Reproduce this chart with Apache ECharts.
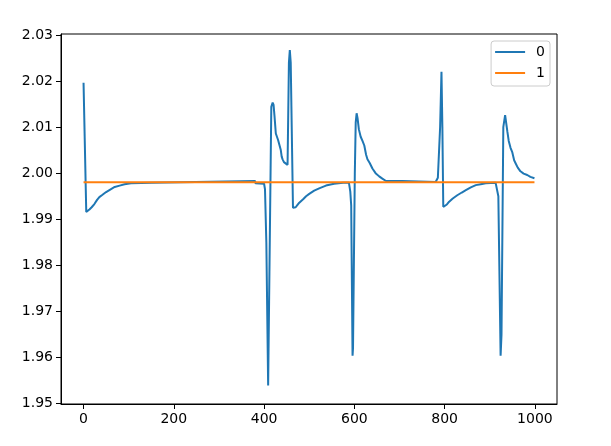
<!DOCTYPE html>
<html>
<head>
<meta charset="utf-8">
<script src="https://cdn.jsdelivr.net/npm/echarts@6/dist/echarts.min.js"></script>
<style>html,body{margin:0;padding:0;background:#fff}#c{width:611px;height:446px}</style>
</head>
<body>
<div id="c"></div>
<script>
// Series "0" (blue) key points
const blueX = [0, 6, 9, 13, 18, 24, 30, 35, 42, 50, 60, 69, 80, 91, 105, 150, 151, 380, 381, 400,
  402, 405, 409, 416, 419, 421, 423, 426, 428, 431, 434, 437, 439, 441, 444, 448, 452, 455, 457, 459,
  464, 467, 470, 474, 478, 482, 487, 493, 500, 511, 522, 537, 555, 575, 588, 591, 593, 596, 597, 601,
  603, 605, 607, 610, 614, 618, 622, 626, 629, 634, 640, 647, 655, 662, 670, 706, 707, 780, 785, 790,
  793, 795, 797, 800, 805, 810, 818, 828, 838, 847, 858, 869, 880, 891, 913, 916, 919, 924, 926, 930,
  934, 936, 939, 942, 946, 950, 954, 958, 962, 968, 975, 983, 990, 999];
const blueY = [2.0196, 1.9916, 1.9918, 1.9921, 1.9926, 1.9933, 1.9942, 1.9948, 1.9953, 1.9959, 1.9965, 1.9970, 1.9973, 1.9976, 1.9978, 1.9979, 1.9983, 1.9983, 1.9978, 1.9977,
  1.9965, 1.9850, 1.9539, 2.0144, 2.0153, 2.0148, 2.0125, 2.0086, 2.0082, 2.0072, 2.0061, 2.0050, 2.0036, 2.0030, 2.0024, 2.0020, 2.0018, 2.0240, 2.0267, 2.0240,
  1.9925, 1.9923, 1.9926, 1.9931, 1.9936, 1.9939, 1.9944, 1.9950, 1.9955, 1.9962, 1.9967, 1.9973, 1.9977, 1.9979, 1.9979, 1.9960, 1.9930, 1.9604, 1.9620, 2.0000,
  2.0110, 2.0130, 2.0120, 2.0095, 2.0079, 2.0070, 2.0060, 2.0040, 2.0030, 2.0022, 2.0010, 2.0000, 1.9993, 1.9988, 1.9983, 1.9983, 1.9981, 1.9981, 1.9990, 2.0100,
  2.0220, 2.0100, 1.9927, 1.9926, 1.9932, 1.9938, 1.9945, 1.9952, 1.9958, 1.9963, 1.9969, 1.9974, 1.9976, 1.9978, 1.9979, 1.9975, 1.9950, 1.9604, 1.9650, 2.0100,
  2.0126, 2.0126, 2.0090, 2.0070, 2.0055, 2.0045, 2.0028, 2.0020, 2.0012, 2.0004, 1.9999, 1.9996, 1.9992, 1.9989];
// Series "1" (orange), constant
const orangeX = [0, 999];
const orangeY = [1.998, 1.998];
const seriesNames = ['0', '1'];
const xTicks = [0, 200, 400, 600, 800, 1000];
const yTicks = [1.95, 1.96, 1.97, 1.98, 1.99, 2.00, 2.01, 2.02, 2.03];

const zip = (xs, ys) => xs.map((x, i) => [x, ys[i]]);
const font = 'DejaVu Sans';
const chart = echarts.init(document.getElementById('c'), null, {renderer: 'canvas'});
chart.setOption({
  animation: false,
  backgroundColor: '#fff',
  grid: {left: 61, right: 54, top: 34, height: 370, show: true, borderColor: '#000', borderWidth: 1, backgroundColor: 'transparent'},
  xAxis: {
    type: 'value', min: -49.95, max: 1048.95,
    splitLine: {show: false},
    axisLine: {show: true, onZero: false, lineStyle: {color: '#000', width: 1}},
    axisTick: {show: true, inside: false, length: 5, lineStyle: {color: '#000'}, customValues: xTicks},
    axisLabel: {color: '#000', fontSize: 14, fontFamily: font, margin: 8, customValues: xTicks, formatter: v => String(v)}
  },
  yAxis: {
    type: 'value', min: 1.9499, max: 2.0302,
    splitLine: {show: false},
    axisLine: {show: true, onZero: false, lineStyle: {color: '#000', width: 1}},
    axisTick: {show: true, inside: false, length: 5, lineStyle: {color: '#000'}, customValues: yTicks},
    axisLabel: {color: '#000', fontSize: 14, fontFamily: font, margin: 8, customValues: yTicks, formatter: v => v.toFixed(2)}
  },
  legend: {
    orient: 'vertical', right: 61, top: 41,
    padding: [4, 5, 6, 4], itemGap: 7,
    borderColor: '#cccccc', borderWidth: 1, borderRadius: 3, backgroundColor: '#fff',
    icon: 'rect', itemWidth: 30, itemHeight: 2,
    textStyle: {color: '#000', fontSize: 14, fontFamily: font, lineHeight: 14, padding: [0, 0, 0, 6]},
    data: seriesNames
  },
  series: [
    {name: seriesNames[0], type: 'line', data: zip(blueX, blueY), showSymbol: false, symbol: 'none',
      lineStyle: {color: '#1f77b4', width: 2}, itemStyle: {color: '#1f77b4'}},
    {name: seriesNames[1], type: 'line', data: zip(orangeX, orangeY), showSymbol: false, symbol: 'none',
      lineStyle: {color: '#ff7f0e', width: 2}, itemStyle: {color: '#ff7f0e'}}
  ]
});
</script>
</body>
</html>
